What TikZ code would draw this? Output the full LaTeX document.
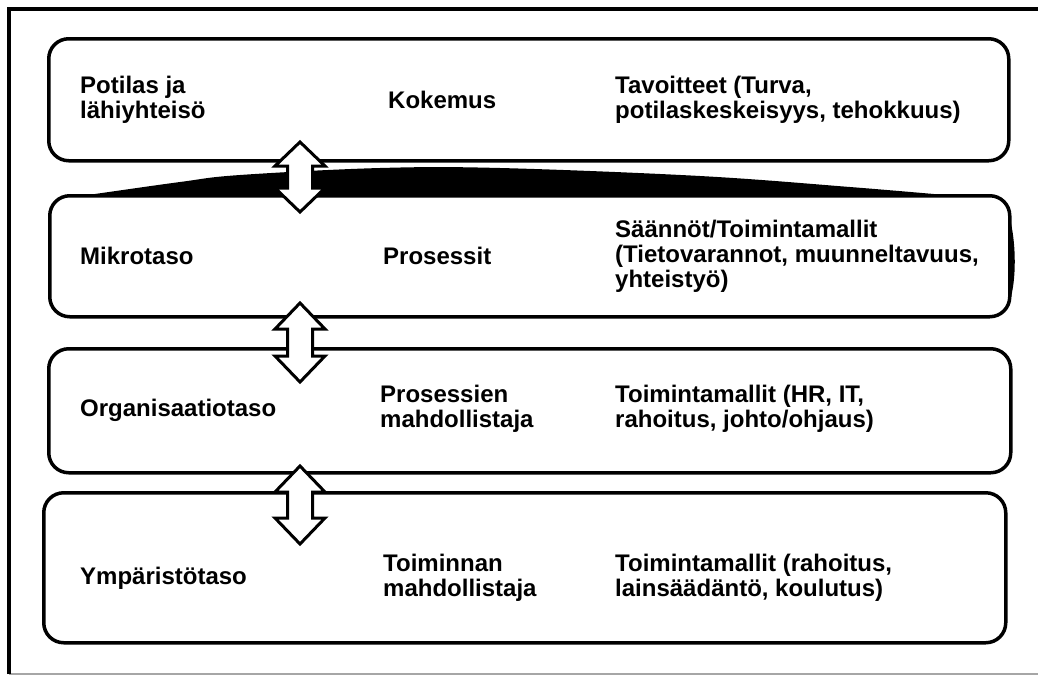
\documentclass[tikz,border=0pt]{standalone}
\usepackage{fontspec}
\setmainfont{Liberation Sans}
\begin{document}
\begin{tikzpicture}[x=1pt,y=-1pt,
  frameline/.style={line width=3.5pt},
  levelbox/.style={draw,line width=3.5pt,rounded corners=20pt,inner sep=0pt,anchor=north west},
  label/.style={anchor=west,align=left,inner sep=0pt,font=\fontsize{24}{25}\selectfont\bfseries},
  arrowbox/.style={draw,fill=white,line width=3pt,line join=miter}]
\useasboundingbox (0,0) rectangle (1038,675);

% outer frame
\coordinate (fa) at (9,674);
\coordinate (fb) at (9,9);
\coordinate (fc) at (1038,9);
\coordinate (fd) at (1038,674);
\draw[black!35,line width=1.5pt] (fa) -- (fd);
\draw[frameline] (fa) -- (fb) -- (fc);

% level boxes
\node[levelbox,minimum width=960pt,minimum height=122pt] (b1) at (47,37) {};
\node[levelbox,minimum width=960pt,minimum height=121pt] (b2) at (48,194) {};
\node[levelbox,minimum width=962pt,minimum height=124pt] (b3) at (47,347) {};
\node[levelbox,minimum width=962pt,minimum height=150pt] (b4) at (42,491) {};

% swollen top and right edges of the second box
\fill (88,195) plot[smooth,tension=0.6] coordinates
  {(88,195) (180,182) (240,175) (380,168) (500,168) (700,176) (850,187) (945,195)}
  -- cycle;
\fill (1008,212) .. controls (1017,240) and (1017,285) .. (1008,306) -- cycle;

% texts
\node[label] (t11) at (80,100) {Potilas ja\\lähiyhteisö};
\node[label] (t12) at (388,100) {Kokemus};
\node[label] (t13) at (615,100) {Tavoitteet (Turva,\\potilaskeskeisyys, tehokkuus)};

\node[label] (t21) at (80,256) {Mikrotaso};
\node[label] (t22) at (383,256) {Prosessit};
\node[label] (t23) at (615,256) {Säännöt/Toimintamallit\\(Tietovarannot, muunneltavuus,\\yhteistyö)};

\node[label] (t31) at (80,410) {Organisaatiotaso};
\node[label] (t32) at (380,409) {Prosessien\\mahdollistaja};
\node[label] (t33) at (615,409) {Toimintamallit (HR, IT,\\rahoitus, johto/ohjaus)};

\node[label] (t41) at (80,578) {Ympäristötaso};
\node[label] (t42) at (383,578) {Toiminnan\\mahdollistaja};
\node[label] (t43) at (615,578) {Toimintamallit (rahoitus,\\lainsäädäntö, koulutus)};

% double block arrows between levels: centre x, top tip, bottom tip, head length
\newcommand\blockarrow[4]{%
  \draw[arrowbox] (#1,#2) -- (#1+25,#2+#4) -- (#1+12.5,#2+#4) -- (#1+12.5,#3-#4)
    -- (#1+25,#3-#4) -- (#1,#3) -- (#1-25,#3-#4) -- (#1-12.5,#3-#4)
    -- (#1-12.5,#2+#4) -- (#1-25,#2+#4) -- cycle;}
\blockarrow{300}{142}{212}{24}
\blockarrow{300}{303}{382}{26}
\blockarrow{300}{466}{544}{26}
\end{tikzpicture}
\end{document}
